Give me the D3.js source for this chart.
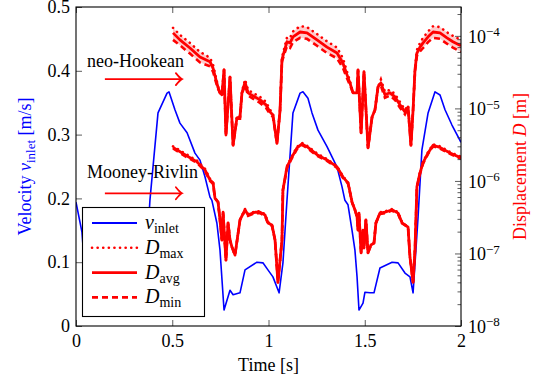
<!DOCTYPE html>
<html>
<head>
<meta charset="utf-8">
<script src="https://cdn.jsdelivr.net/npm/d3@7"></script>
<style>
  body { margin: 0; background: #fff; }
  svg { font-family: 'Liberation Serif', 'DejaVu Serif', serif; }
</style>
</head>
<body>
<div id="chart"></div>
<script>
// inlet velocity
const timeV = [0, 0.031, 0.038, 0.059, 0.090, 0.106, 0.142, 0.168, 0.230, 0.261,
  0.287, 0.313, 0.345, 0.365, 0.384, 0.426, 0.473, 0.483, 0.514, 0.540,
  0.577, 0.618, 0.644, 0.670, 0.696, 0.706, 0.732, 0.748, 0.769, 0.800,
  0.816, 0.852, 0.878, 0.940, 0.971, 0.997, 1.023, 1.055, 1.075, 1.096,
  1.127, 1.164, 1.179, 1.205, 1.226, 1.257, 1.304, 1.330, 1.356, 1.382,
  1.397, 1.413, 1.434, 1.449, 1.460, 1.470, 1.491, 1.501, 1.527, 1.548,
  1.579, 1.642, 1.673, 1.709, 1.735, 1.751, 1.777, 1.797, 1.829, 1.865,
  1.891, 1.917, 1.953, 2.000];
const velocity = [0.194, 0.147, 0.119, 0.025, 0.056, 0.049, 0.052, 0.088, 0.100, 0.099,
  0.088, 0.077, 0.052, 0.099, 0.197, 0.334, 0.365, 0.367, 0.339, 0.318,
  0.303, 0.271, 0.260, 0.234, 0.202, 0.197, 0.161, 0.119, 0.025, 0.056,
  0.049, 0.052, 0.088, 0.100, 0.099, 0.088, 0.077, 0.052, 0.099, 0.197,
  0.334, 0.365, 0.367, 0.357, 0.334, 0.307, 0.281, 0.265, 0.249, 0.218,
  0.197, 0.190, 0.150, 0.119, 0.077, 0.025, 0.036, 0.053, 0.052, 0.052,
  0.091, 0.100, 0.099, 0.083, 0.077, 0.052, 0.171, 0.276, 0.334, 0.367,
  0.362, 0.339, 0.315, 0.288];

// neo-Hookean displacement
const timeNH = [0.504, 0.540, 0.592, 0.644, 0.696, 0.712, 0.727, 0.738, 0.748, 0.758,
  0.769, 0.779, 0.800, 0.816, 0.836, 0.852, 0.862, 0.878, 0.894, 0.919,
  0.956, 0.987, 1.008, 1.023, 1.044, 1.060, 1.070, 1.081, 1.096, 1.112,
  1.127, 1.164, 1.200, 1.252, 1.304, 1.356, 1.387, 1.408, 1.423, 1.439,
  1.460, 1.465, 1.481, 1.496, 1.517, 1.538, 1.553, 1.569, 1.584, 1.605,
  1.631, 1.657, 1.683, 1.709, 1.725, 1.740, 1.751, 1.761, 1.771, 1.787,
  1.803, 1.829, 1.855, 1.891, 1.927, 1.958, 2.000];
const nhMax = [1.29e-4, 1.03e-4, 8.0e-5, 6.0e-5, 5.0e-5, 4.0e-5, 2.7e-5, 2.0e-5, 1.64e-5, 1.54e-5,
  3.4e-5, 4.3e-6, 2.7e-5, 3.1e-6, 7.8e-6, 8.0e-6, 1.7e-5, 2.5e-5, 1.8e-5, 1.64e-5,
  1.44e-5, 1.23e-5, 9.6e-6, 8.5e-6, 3.3e-6, 9.5e-6, 5.0e-5, 6.6e-5, 9.5e-5, 9.4e-5,
  1.15e-4, 1.36e-4, 1.32e-4, 1.06e-4, 8.4e-5, 6.9e-5, 4.9e-5, 3.2e-5, 2.4e-5, 1.64e-5,
  1.64e-5, 3.4e-5, 4.6e-6, 3.2e-5, 2.85e-6, 7.6e-6, 9.5e-6, 1.98e-5, 2.5e-5, 1.7e-5,
  1.8e-5, 1.58e-5, 1.23e-5, 9.6e-6, 1.1e-5, 3.1e-6, 9.5e-6, 3.6e-5, 6.4e-5, 8.0e-5,
  9.4e-5, 1.15e-4, 1.36e-4, 1.32e-4, 1.12e-4, 1.0e-4, 8.8e-5];
const nhAvg = [1.10e-4, 8.8e-5, 6.8e-5, 5.1e-5, 4.4e-5, 3.6e-5, 2.5e-5, 1.94e-5, 1.64e-5, 1.54e-5,
  3.4e-5, 4.3e-6, 2.7e-5, 3.1e-6, 7.4e-6, 7.6e-6, 1.64e-5, 2.3e-5, 1.64e-5, 1.49e-5,
  1.31e-5, 1.12e-5, 8.95e-6, 8.1e-6, 3.3e-6, 9.5e-6, 4.7e-5, 6.0e-5, 8.3e-5, 8.0e-5,
  9.7e-5, 1.13e-4, 1.10e-4, 8.8e-5, 7.0e-5, 5.8e-5, 4.2e-5, 2.9e-5, 2.25e-5, 1.64e-5,
  1.64e-5, 3.4e-5, 4.6e-6, 3.2e-5, 2.85e-6, 7.6e-6, 9.5e-6, 1.98e-5, 2.25e-5, 1.54e-5,
  1.64e-5, 1.44e-5, 1.12e-5, 8.95e-6, 1.05e-5, 3.1e-6, 9.5e-6, 3.4e-5, 5.8e-5, 7.0e-5,
  8.0e-5, 9.7e-5, 1.13e-4, 1.10e-4, 9.4e-5, 8.3e-5, 7.3e-5];
const nhMin = [8.8e-5, 7.4e-5, 5.7e-5, 4.3e-5, 3.8e-5, 3.2e-5, 2.3e-5, 1.85e-5, 1.64e-5, 1.54e-5,
  3.4e-5, 4.3e-6, 2.7e-5, 3.1e-6, 7.2e-6, 7.2e-6, 1.58e-5, 2.1e-5, 1.5e-5, 1.36e-5,
  1.19e-5, 1.02e-5, 8.3e-6, 7.7e-6, 3.3e-6, 9.5e-6, 4.4e-5, 5.5e-5, 7.2e-5, 6.8e-5,
  8.2e-5, 9.4e-5, 9.1e-5, 7.3e-5, 5.8e-5, 4.9e-5, 3.6e-5, 2.6e-5, 2.1e-5, 1.64e-5,
  1.64e-5, 3.4e-5, 4.6e-6, 3.2e-5, 2.85e-6, 7.6e-6, 9.5e-6, 1.98e-5, 2.05e-5, 1.4e-5,
  1.5e-5, 1.31e-5, 1.02e-5, 8.3e-6, 1.0e-5, 3.1e-6, 9.5e-6, 3.2e-5, 5.3e-5, 6.1e-5,
  6.8e-5, 8.2e-5, 9.4e-5, 9.1e-5, 7.8e-5, 6.9e-5, 6.0e-5];

// Mooney-Rivlin displacement
const timeMR = [0.504, 0.566, 0.629, 0.670, 0.696, 0.712, 0.722, 0.738, 0.748, 0.758,
  0.764, 0.779, 0.790, 0.800, 0.810, 0.826, 0.852, 0.878, 0.894, 0.930,
  0.956, 0.982, 0.997, 1.018, 1.034, 1.049, 1.070, 1.075, 1.096, 1.122,
  1.148, 1.174, 1.205, 1.252, 1.304, 1.356, 1.387, 1.413, 1.423, 1.434,
  1.449, 1.460, 1.465, 1.470, 1.481, 1.491, 1.496, 1.506, 1.517, 1.532,
  1.548, 1.558, 1.579, 1.605, 1.642, 1.673, 1.694, 1.725, 1.735, 1.751,
  1.761, 1.771, 1.787, 1.803, 1.829, 1.855, 1.891, 1.943, 2.000];
const mrMax = [3.0e-6, 2.4e-6, 1.9e-6, 1.47e-6, 1.07e-6, 9.7e-7, 5.8e-7, 5.1e-7, 2.9e-7, 1.53e-7,
  3.7e-7, 8.1e-8, 2.64e-7, 1.53e-7, 1.23e-7, 9.5e-8, 2.9e-7, 4.1e-7, 3.5e-7, 3.8e-7,
  3.8e-7, 3.5e-7, 2.7e-7, 2.5e-7, 1.53e-7, 4.0e-8, 1.53e-7, 7.5e-7, 1.6e-6, 2.2e-6,
  2.95e-6, 3.35e-6, 3.0e-6, 2.4e-6, 2.0e-6, 1.6e-6, 1.16e-6, 9.6e-7, 7.2e-7, 5.1e-7,
  4.0e-7, 3.2e-7, 2.1e-7, 3.6e-7, 1.02e-7, 2.1e-7, 1.19e-7, 2.9e-7, 1.02e-7, 1.31e-7,
  1.39e-7, 2.64e-7, 3.7e-7, 3.8e-7, 4.1e-7, 3.7e-7, 2.7e-7, 2.3e-7, 8.9e-8, 4.0e-8,
  1.12e-7, 8.3e-7, 1.33e-6, 1.85e-6, 2.5e-6, 3.2e-6, 3.0e-6, 2.5e-6, 2.15e-6];
const mrAvg = [2.9e-6, 2.3e-6, 1.83e-6, 1.42e-6, 1.03e-6, 9.4e-7, 5.8e-7, 5.1e-7, 2.9e-7, 1.53e-7,
  3.7e-7, 8.1e-8, 2.64e-7, 1.53e-7, 1.23e-7, 9.5e-8, 2.9e-7, 4.0e-7, 3.4e-7, 3.7e-7,
  3.7e-7, 3.4e-7, 2.64e-7, 2.47e-7, 1.53e-7, 4.0e-8, 1.53e-7, 7.5e-7, 1.56e-6, 2.14e-6,
  2.85e-6, 3.24e-6, 2.9e-6, 2.3e-6, 1.95e-6, 1.56e-6, 1.13e-6, 9.4e-7, 7.1e-7, 5.1e-7,
  4.0e-7, 3.2e-7, 2.1e-7, 3.6e-7, 1.02e-7, 2.1e-7, 1.19e-7, 2.9e-7, 1.02e-7, 1.31e-7,
  1.39e-7, 2.64e-7, 3.6e-7, 3.7e-7, 4.0e-7, 3.6e-7, 2.64e-7, 2.3e-7, 8.9e-8, 4.0e-8,
  1.12e-7, 8.3e-7, 1.29e-6, 1.79e-6, 2.43e-6, 3.1e-6, 2.9e-6, 2.43e-6, 2.08e-6];
const mrMin = [2.8e-6, 2.2e-6, 1.77e-6, 1.37e-6, 1.0e-6, 9.1e-7, 5.8e-7, 5.1e-7, 2.9e-7, 1.53e-7,
  3.7e-7, 8.1e-8, 2.64e-7, 1.53e-7, 1.23e-7, 9.5e-8, 2.9e-7, 3.9e-7, 3.3e-7, 3.6e-7,
  3.6e-7, 3.3e-7, 2.6e-7, 2.4e-7, 1.53e-7, 4.0e-8, 1.53e-7, 7.5e-7, 1.5e-6, 2.07e-6,
  2.75e-6, 3.13e-6, 2.8e-6, 2.22e-6, 1.89e-6, 1.51e-6, 1.1e-6, 9.2e-7, 7.0e-7, 5.1e-7,
  4.0e-7, 3.2e-7, 2.1e-7, 3.6e-7, 1.02e-7, 2.1e-7, 1.19e-7, 2.9e-7, 1.02e-7, 1.31e-7,
  1.39e-7, 2.64e-7, 3.5e-7, 3.6e-7, 3.9e-7, 3.5e-7, 2.6e-7, 2.3e-7, 8.9e-8, 4.0e-8,
  1.12e-7, 8.3e-7, 1.25e-6, 1.73e-6, 2.36e-6, 3.0e-6, 2.8e-6, 2.36e-6, 2.02e-6];

// ticks and labels
const xTicks = [0, 0.5, 1, 1.5, 2];
const vTicks = [0, 0.1, 0.2, 0.3, 0.4, 0.5];
const dTicks = [1e-8, 1e-7, 1e-6, 1e-5, 1e-4];
const legendItems = [['v', 'inlet'], ['D', 'max'], ['D', 'avg'], ['D', 'min']];
const modelNames = ['neo-Hookean', 'Mooney-Rivlin'];
const modelLabelV = [0.406, 0.232];
const modelArrowV = [0.387, 0.208];

const W = 540, H = 383;
const margin = { top: 7, right: 79, bottom: 57, left: 76 };
const FS = 18;
const blue = '#0000ff', red = '#ff0000';

const x = d3.scaleLinear().domain([0, 2]).range([margin.left, W - margin.right]);
const yV = d3.scaleLinear().domain([0, 0.5]).range([H - margin.bottom, margin.top]);
const yD = d3.scaleLog().domain([1e-8, 2.5e-4]).range([H - margin.bottom, margin.top]);

const svg = d3.select('#chart').append('svg')
  .attr('width', W).attr('height', H)
  .style('font-size', FS + 'px');

svg.append('defs').append('clipPath').attr('id', 'plot')
  .append('rect')
  .attr('x', margin.left).attr('y', margin.top)
  .attr('width', W - margin.left - margin.right)
  .attr('height', H - margin.top - margin.bottom);

const plot = svg.append('g').attr('clip-path', 'url(#plot)');

// velocity
const vLine = d3.line()
  .x((d, i) => x(timeV[i]))
  .y(d => yV(d));
plot.append('path')
  .datum(velocity)
  .attr('fill', 'none')
  .attr('stroke', blue)
  .attr('stroke-width', 1.6)
  .attr('stroke-linejoin', 'round')
  .attr('d', vLine);

// displacement curves
function drawModel(time, dMax, dAvg, dMin) {
  const band = d3.area()
    .x((d, i) => x(time[i]))
    .y0((d, i) => yD(dMin[i]))
    .y1((d, i) => yD(dMax[i]));
  plot.append('path')
    .datum(dAvg)
    .attr('fill', red)
    .attr('fill-opacity', 0.2)
    .attr('d', band);

  const line = d3.line().x((d, i) => x(time[i])).y(d => yD(d));
  plot.append('path').datum(dMax)
    .attr('fill', 'none').attr('stroke', red).attr('stroke-width', 2.6)
    .attr('stroke-linecap', 'round').attr('stroke-dasharray', '0.1 5.5')
    .attr('d', line);
  plot.append('path').datum(dAvg)
    .attr('fill', 'none').attr('stroke', red).attr('stroke-width', 2.8)
    .attr('stroke-linejoin', 'round')
    .attr('d', line);
  plot.append('path').datum(dMin)
    .attr('fill', 'none').attr('stroke', red).attr('stroke-width', 2.6)
    .attr('stroke-dasharray', '6 4')
    .attr('d', line);
}
drawModel(timeNH, nhMax, nhAvg, nhMin);
drawModel(timeMR, mrMax, mrAvg, mrMin);

// axes, ticks inside
const axBottom = svg.append('g')
  .attr('transform', `translate(0,${H - margin.bottom})`)
  .call(d3.axisBottom(x).tickValues(xTicks).tickSize(-6).tickPadding(8)
    .tickFormat(d => String(d)));
const axTop = svg.append('g')
  .attr('transform', `translate(0,${margin.top})`)
  .call(d3.axisTop(x).tickValues(xTicks).tickSize(-6).tickFormat(''));
const axLeft = svg.append('g')
  .attr('transform', `translate(${margin.left},0)`)
  .call(d3.axisLeft(yV).tickValues(vTicks).tickSize(-6).tickPadding(6)
    .tickFormat(d => d === 0 ? '0' : d3.format('.1f')(d)));

const minor = [];
dTicks.forEach(p => {
  for (let m = 2; m <= 9; m++) {
    if (p * m <= yD.domain()[1]) minor.push(p * m);
  }
});
const axRightMinor = svg.append('g')
  .attr('transform', `translate(${W - margin.right},0)`)
  .call(d3.axisRight(yD).tickValues(minor).tickSize(-3.5).tickFormat(''));
const axRight = svg.append('g')
  .attr('transform', `translate(${W - margin.right},0)`)
  .call(d3.axisRight(yD).tickValues(dTicks).tickSize(-6).tickPadding(7).tickFormat(''));

[axBottom, axTop, axLeft, axRightMinor, axRight].forEach(g => {
  g.select('.domain').remove();
  g.selectAll('line').attr('stroke', '#333').attr('stroke-width', 0.8);
  g.selectAll('text').attr('fill', '#000')
    .style('font-family', "'Liberation Serif', serif").style('font-size', FS + 'px');
});

axRight.selectAll('.tick text').each(function (d) {
  const e = Math.round(Math.log10(d));
  const t = d3.select(this).attr('dy', '0.36em');
  t.append('tspan').text('10');
  t.append('tspan').attr('dy', '-0.5em').style('font-size', '13px').text('\u2212' + (-e));
});

svg.append('rect')
  .attr('x', margin.left).attr('y', margin.top)
  .attr('width', W - margin.left - margin.right)
  .attr('height', H - margin.top - margin.bottom)
  .attr('fill', 'none').attr('stroke', '#000').attr('stroke-width', 1.1);

// model annotations with arrows
modelNames.forEach((name, i) => {
  svg.append('text')
    .attr('x', x(0.057)).attr('y', yV(modelLabelV[i]))
    .text(name);
  const x0 = x(0.15), x1 = x(0.55), yy = yV(modelArrowV[i]);
  svg.append('line')
    .attr('x1', x0).attr('x2', x1 - 1).attr('y1', yy).attr('y2', yy)
    .attr('stroke', red).attr('stroke-width', 1.8);
  svg.append('path')
    .attr('d', `M${x1 - 6},${yy - 6} Q${x1 - 2},${yy - 1} ${x1},${yy} Q${x1 - 2},${yy + 1} ${x1 - 6},${yy + 6}`)
    .attr('fill', 'none').attr('stroke', red).attr('stroke-width', 1.8)
    .attr('stroke-linecap', 'round');
});

// legend
const lg = svg.append('g');
lg.append('rect')
  .attr('x', 82.5).attr('y', 207.5).attr('width', 122).attr('height', 109)
  .attr('fill', '#fff').attr('stroke', '#000').attr('stroke-width', 1.1);
const legendStyle = [
  { c: blue, w: 1.8, dash: null, cap: 'butt' },
  { c: red, w: 2.6, dash: '0.1 5.5', cap: 'round' },
  { c: red, w: 2.8, dash: null, cap: 'butt' },
  { c: red, w: 2.6, dash: '6 4', cap: 'butt' }
];
legendItems.forEach((item, i) => {
  const cy = 223 + i * 24.8;
  const st = legendStyle[i];
  lg.append('line')
    .attr('x1', 92).attr('x2', 137).attr('y1', cy).attr('y2', cy)
    .attr('stroke', st.c).attr('stroke-width', st.w)
    .attr('stroke-dasharray', st.dash).attr('stroke-linecap', st.cap);
  const t = lg.append('text').attr('x', 145).attr('y', cy + 6);
  t.append('tspan').style('font-style', 'italic').style('font-size', '20px').text(item[0]);
  t.append('tspan').attr('dy', 4).style('font-size', '14px').text(item[1]);
});

// axis titles
svg.append('text')
  .attr('x', (margin.left + W - margin.right) / 2).attr('y', 371)
  .attr('text-anchor', 'middle')
  .text('Time [s]');

const yl = svg.append('text')
  .attr('transform', `translate(31,${(margin.top + H - margin.bottom) / 2}) rotate(-90)`)
  .attr('text-anchor', 'middle')
  .attr('fill', blue);
yl.append('tspan').text('Velocity ');
yl.append('tspan').style('font-style', 'italic').text('v');
yl.append('tspan').attr('dy', 4).style('font-size', '13px').text('inlet');
yl.append('tspan').attr('dy', -4).text(' [m/s]');

const yr = svg.append('text')
  .attr('transform', `translate(526,${(margin.top + H - margin.bottom) / 2}) rotate(-90)`)
  .attr('text-anchor', 'middle')
  .attr('fill', red);
yr.append('tspan').text('Displacement ');
yr.append('tspan').style('font-style', 'italic').text('D');
yr.append('tspan').text(' [m]');
</script>
</body>
</html>
